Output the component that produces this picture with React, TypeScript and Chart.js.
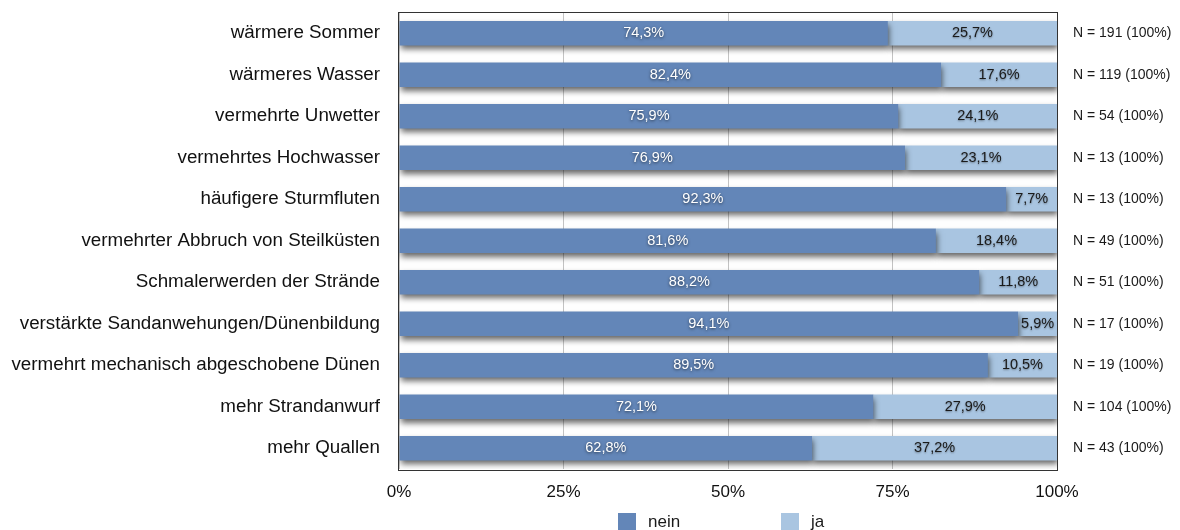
import React, { useEffect, useRef } from "react";
import { Chart, registerables } from "chart.js";

Chart.register(...registerables);

const categories = [
  "wärmere Sommer",
  "wärmeres Wasser",
  "vermehrte Unwetter",
  "vermehrtes Hochwasser",
  "häufigere Sturmfluten",
  "vermehrter Abbruch von Steilküsten",
  "Schmalerwerden der Strände",
  "verstärkte Sandanwehungen/Dünenbildung",
  "vermehrt mechanisch abgeschobene Dünen",
  "mehr Strandanwurf",
  "mehr Quallen",
];
const nein = [74.3, 82.4, 75.9, 76.9, 92.3, 81.6, 88.2, 94.1, 89.5, 72.1, 62.8];
const ja = [25.7, 17.6, 24.1, 23.1, 7.7, 18.4, 11.8, 5.9, 10.5, 27.9, 37.2];
const totals = [191, 119, 54, 13, 13, 49, 51, 17, 19, 104, 43];
const seriesNames = ["nein", "ja"];
const xTicks = [0, 25, 50, 75, 100];

const FONT = '"Liberation Sans", Arial, Helvetica, sans-serif';
const C_NEIN = "#6386b8";
const C_JA = "#a9c5e1";

const fmt = (v: number) => v.toFixed(1).replace(".", ",") + "%";

export default function App() {
  const ref = useRef<HTMLCanvasElement | null>(null);

  useEffect(() => {
    document.body.style.margin = "0";
    const canvas = ref.current!;
    const shadowPlugin = {
      id: "barShadow",
      beforeDatasetsDraw(chart: any) {
        const { ctx, chartArea: a } = chart;
        ctx.save();
        ctx.strokeStyle = "#333";
        ctx.lineWidth = 1;
        ctx.strokeRect(Math.round(a.left) - 0.5, Math.round(a.top) - 0.5, Math.round(a.right - a.left) + 1, Math.round(a.bottom - a.top) + 1);
        ctx.restore();
        ctx.save();
        ctx.shadowColor = "rgba(0,0,0,0.6)";
        ctx.shadowBlur = 6;
        ctx.shadowOffsetX = 1;
        ctx.shadowOffsetY = 4;
      },
      afterDatasetsDraw(chart: any) {
        chart.ctx.restore();
      },
    };
    const labelPlugin = {
      id: "labels",
      afterDatasetsDraw(chart: any) {
        const { ctx, chartArea: a } = chart;
        ctx.save();
        ctx.font = `14.5px ${FONT}`;
        ctx.textBaseline = "middle";
        ctx.textAlign = "center";
        chart.data.datasets.forEach((ds: any, di: number) => {
          const meta = chart.getDatasetMeta(di);
          meta.data.forEach((el: any, i: number) => {
            const cx = (el.x + el.base) / 2;
            if (di === 0) {
              ctx.fillStyle = "#fff";
              ctx.shadowColor = "rgba(0,0,0,0.6)";
              ctx.shadowBlur = 3;
              ctx.shadowOffsetY = 1;
            } else {
              ctx.fillStyle = "#1a1a1a";
              ctx.shadowColor = "rgba(0,0,0,0.4)";
              ctx.shadowBlur = 2;
              ctx.shadowOffsetY = 1;
            }
            ctx.fillText(fmt(ds.data[i]), cx, el.y);
          });
        });
        ctx.shadowColor = "transparent";
        ctx.shadowBlur = 0;
        ctx.shadowOffsetY = 0;
        ctx.textAlign = "left";
        ctx.fillStyle = "#1a1a1a";
        ctx.font = `14px ${FONT}`;
        const meta0 = chart.getDatasetMeta(0);
        meta0.data.forEach((el: any, i: number) => {
          ctx.fillText(`N = ${totals[i]} (100%)`, a.right + 16, el.y);
        });
        const cx = (a.left + a.right) / 2;
        const items = [
          { x: cx - 110, color: C_NEIN, label: seriesNames[0] },
          { x: cx + 53, color: C_JA, label: seriesNames[1] },
        ];
        ctx.font = `17px ${FONT}`;
        items.forEach((it) => {
          ctx.fillStyle = it.color;
          ctx.fillRect(it.x, 513, 18, 18);
          ctx.fillStyle = "#1a1a1a";
          ctx.fillText(it.label, it.x + 30, 522);
        });
        ctx.restore();
      },
    };

    const chart = new Chart(canvas, {
      type: "bar",
      data: {
        labels: categories,
        datasets: [
          { label: seriesNames[0], data: nein, backgroundColor: C_NEIN, barPercentage: 0.59, categoryPercentage: 1 },
          { label: seriesNames[1], data: ja, backgroundColor: C_JA, barPercentage: 0.59, categoryPercentage: 1 },
        ],
      },
      options: {
        indexAxis: "y",
        animation: false,
        responsive: false,
        devicePixelRatio: 1,
        layout: { padding: { top: 12.5, right: 123, left: 0, bottom: 0 } },
        plugins: { legend: { display: false }, tooltip: { enabled: false } },
        scales: {
          x: {
            stacked: true,
            min: 0,
            max: 100,
            afterBuildTicks: (s: any) => {
              s.ticks = xTicks.map((v) => ({ value: v }));
            },
            afterFit: (s: any) => {
              s.height = 61;
              s.paddingLeft = 0;
              s.paddingRight = 0;
            },
            ticks: {
              callback: (v: any) => v + "%",
              font: { family: FONT, size: 17 },
              color: "#111",
              padding: 13,
            },
            grid: { color: "#c4c4c4", drawTicks: false },
            border: { display: false },
          },
          y: {
            stacked: true,
            afterFit: (s: any) => {
              s.width = 399;
              s.paddingTop = 0;
              s.paddingBottom = 0;
            },
            ticks: {
              font: { family: FONT, size: 18.8 },
              color: "#111",
              padding: 19,
            },
            grid: { display: false, drawTicks: false },
            border: { display: false },
          },
        },
      },
      plugins: [shadowPlugin, labelPlugin],
    } as any);
    return () => chart.destroy();
  }, []);

  return (
    <div style={{ position: "absolute", left: 0, top: 0, width: 1180, height: 530 }}>
      <canvas ref={ref} width={1180} height={530} style={{ display: "block" }} />
    </div>
  );
}
